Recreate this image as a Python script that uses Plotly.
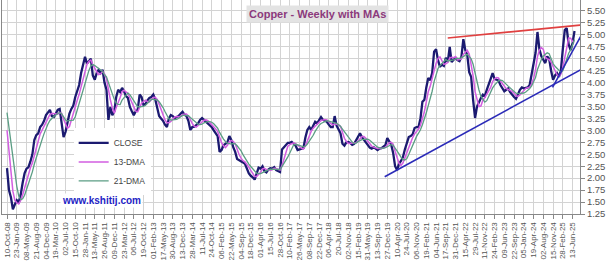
import pandas as pd
import plotly.graph_objects as go

# ---------------- data ----------------
title_text = "Copper - Weekly with MAs"
watermark = "www.kshitij.com"

start_date = "2008-10-10"          # first plotted weekly close
step_days = 21                     # values read every 3 weeks

# closes before the first plotted date (only used to seed the moving averages)
close_pre = [3.85, 3.80, 3.95, 3.85, 3.45, 3.40, 2.95]

close = [
    2.21, 1.75, 1.60, 1.35, 1.45, 1.54, 1.50, 1.65, 1.90, 2.10,
    2.20, 2.23, 2.35, 2.50, 2.80, 2.90, 2.94, 3.07, 3.12, 3.20,
    3.32, 3.38, 3.43, 3.30, 3.28, 3.35, 3.43, 3.45, 3.20, 2.86,
    2.97, 3.15, 3.35, 3.45, 3.52, 3.70, 3.85, 3.95, 4.20, 4.40,
    4.54, 4.40, 4.45, 4.50, 4.15, 4.06, 4.20, 4.27, 4.20, 4.27,
    4.00, 3.85, 3.22, 3.49, 3.32, 3.40, 3.70, 3.85, 3.80, 3.89,
    3.82, 3.72, 3.68, 3.49, 3.40, 3.32, 3.40, 3.43, 3.75, 3.70,
    3.53, 3.55, 3.63, 3.68, 3.70, 3.75, 3.65, 3.50, 3.30, 3.25,
    3.20, 3.12, 3.07, 3.25, 3.32, 3.30, 3.26, 3.28, 3.30, 3.35,
    3.39, 3.33, 3.30, 3.20, 3.01, 3.07, 3.08, 3.11, 3.15, 3.22,
    3.26, 3.22, 3.18, 3.15, 3.10, 3.07, 3.00, 2.95, 2.88, 2.55,
    2.59, 2.69, 2.72, 2.75, 2.88, 2.80, 2.65, 2.55, 2.40, 2.38,
    2.35, 2.33, 2.30, 2.20, 2.10, 2.05, 2.02, 1.97, 2.10, 2.22,
    2.20, 2.25, 2.15, 2.12, 2.18, 2.21, 2.20, 2.23, 2.17, 2.15,
    2.13, 2.60, 2.65, 2.68, 2.74, 2.74, 2.76, 2.72, 2.68, 2.59,
    2.60, 2.62, 2.63, 2.85, 3.01, 3.07, 3.01, 3.10, 3.18, 3.15,
    3.22, 3.28, 3.22, 3.20, 3.18, 3.12, 3.07, 3.07, 3.30, 3.10,
    3.00, 2.94, 2.72, 2.68, 2.75, 2.76, 2.74, 2.70, 2.72, 2.80,
    2.88, 2.94, 2.86, 2.80, 2.74, 2.69, 2.64, 2.62, 2.65, 2.62,
    2.59, 2.62, 2.63, 2.66, 2.69, 2.84, 2.78, 2.70, 2.53, 2.25,
    2.17, 2.30, 2.36, 2.44, 2.60, 2.74, 2.86, 2.88, 2.92, 3.05,
    3.07, 3.07, 3.25, 3.60, 3.64, 3.90, 4.10, 4.05, 4.20, 4.65,
    4.70, 4.47, 4.33, 4.38, 4.35, 4.52, 4.43, 4.75, 4.43, 4.48,
    4.52, 4.47, 4.45, 4.54, 4.91, 4.68, 4.58, 4.22, 4.12, 3.64,
    3.26, 3.50, 3.60, 3.68, 3.75, 3.72, 3.85, 3.95, 4.08, 4.20,
    4.08, 4.06, 4.05, 3.95, 3.88, 3.82, 3.85, 3.88, 3.80, 3.74,
    3.70, 3.66, 3.75, 3.85, 3.90, 3.88, 3.89, 3.90, 3.95, 4.15,
    4.35, 4.62, 5.06, 4.70, 4.55, 4.48, 4.41, 4.55, 4.50, 4.25,
    4.06, 4.15, 4.20, 4.12, 4.25, 4.70, 5.10, 5.14, 4.80, 4.68,
    4.83, 5.08,
]

ma_names = ["13-DMA", "21-DMA"]
ma_weeks = [13, 21]

tick_labels = [
    "10-Oct-08", "23-Jan-09", "08-May-09", "21-Aug-09", "04-Dec-09", "19-Mar-10",
    "02-Jul-10", "15-Oct-10", "28-Jan-11", "13-May-11", "26-Aug-11", "09-Dec-11",
    "23-Mar-12", "06-Jul-12", "19-Oct-12", "01-Feb-13", "17-May-13", "30-Aug-13",
    "13-Dec-13", "28-Mar-14", "11-Jul-14", "24-Oct-14", "06-Feb-15", "22-May-15",
    "04-Sep-15", "18-Dec-15", "01-Apr-16", "15-Jul-16", "28-Oct-16", "10-Feb-17",
    "26-May-17", "08-Sep-17", "22-Dec-17", "06-Apr-18", "20-Jul-18", "02-Nov-18",
    "15-Feb-19", "31-May-19", "13-Sep-19", "27-Dec-19", "10-Apr-20", "24-Jul-20",
    "06-Nov-20", "19-Feb-21", "04-Jun-21", "17-Sep-21", "31-Dec-21", "15-Apr-22",
    "29-Jul-22", "11-Nov-22", "24-Feb-23", "09-Jun-23", "22-Sep-23", "05-Jan-24",
    "19-Apr-24", "02-Aug-24", "15-Nov-24", "28-Feb-25", "13-Jun-25",
]

# trend lines (end points)
support_dates = ["2019-11-29", "2025-09-19"]
support_vals = [2.03, 4.28]
steep_dates = ["2024-11-09", "2025-10-10"]
steep_vals = [3.90, 5.08]
resist_dates = ["2021-10-08", "2025-09-29"]
resist_vals = [4.935, 5.21]

x_range = ["2008-08-17", "2025-09-01"]
y_range = [1.25, 5.73]

# ---------------- build ----------------
start = pd.Timestamp(start_date)
all_vals = close_pre + close
all_dates = pd.date_range(start - pd.Timedelta(days=step_days * len(close_pre)),
                          periods=len(all_vals), freq=f"{step_days}D")
ser = pd.Series(all_vals, index=all_dates)
dates = all_dates[len(close_pre):]

step_weeks = step_days / 7
mas = []
for w in ma_weeks:
    n = max(1, round(w / step_weeks))
    mas.append(ser.rolling(n, min_periods=1).mean().iloc[len(close_pre):])

tickvals = [pd.to_datetime(t, format="%d-%b-%y") for t in tick_labels]

FONT = "Arial, Liberation Sans, sans-serif"
fig = go.Figure()
fig.add_trace(go.Scatter(x=dates, y=close, name="CLOSE", mode="lines",
                         line=dict(color="#1b1a70", width=2.3)))
ma_colors = ["#d25ee0", "#5b9d84"]
ma_widths = [1.5, 1.3]
for nm, s, c, wd in zip(ma_names, mas, ma_colors, ma_widths):
    fig.add_trace(go.Scatter(x=dates, y=s.values, name=nm, mode="lines",
                             line=dict(color=c, width=wd)))

for dts, vals, col in [(support_dates, support_vals, "#2b2bb8"),
                       (steep_dates, steep_vals, "#2b2bb8"),
                       (resist_dates, resist_vals, "#e04040")]:
    fig.add_trace(go.Scatter(x=pd.to_datetime(dts), y=vals, mode="lines",
                             showlegend=False, hoverinfo="skip",
                             line=dict(color=col, width=1.6)))

fig.update_layout(
    width=607, height=263,
    margin=dict(l=2, r=26.5, t=0, b=49),
    paper_bgcolor="white", plot_bgcolor="white",
    font=dict(family=FONT, color="#555555"),
    showlegend=True,
    legend=dict(x=0.124, y=0.40, xanchor="left", yanchor="top",
                bgcolor="white", borderwidth=0,
                font=dict(size=8.5, color="#444444", family=FONT),
                tracegroupgap=0, itemwidth=30),
    xaxis=dict(type="date", range=x_range, tickmode="array",
               tickvals=tickvals, ticktext=tick_labels, tickangle=-90,
               tickfont=dict(size=8, color="#555555"),
               showgrid=True, gridcolor="#d3d3d3", gridwidth=1,
               showline=True, linecolor="#888888", linewidth=1,
               ticks="outside", ticklen=4, tickcolor="#888888", zeroline=False),
    yaxis=dict(side="right", range=y_range, tick0=1.25, dtick=0.25,
               tickformat=".2f", tickfont=dict(size=9.5, color="#555555"),
               showgrid=True, gridcolor="#d3d3d3", gridwidth=1,
               showline=True, mirror=True, linecolor="#888888", linewidth=1,
               ticks="outside", ticklen=4, tickcolor="#888888", zeroline=False),
    annotations=[
        dict(text=f"<b>{title_text}</b>", xref="paper", yref="paper",
             x=0.546, y=0.935, xanchor="center", yanchor="middle",
             showarrow=False, bgcolor="#e3e3e3", borderpad=2,
             font=dict(size=11, color="#8c3a7c", family=FONT)),
        dict(text=f"<b>{watermark}</b>", xref="paper", yref="paper",
             x=0.173, y=0.065, xanchor="center", yanchor="middle",
             showarrow=False, bgcolor="white", borderpad=1,
             font=dict(size=10, color="#2323c4", family=FONT)),
    ],
)

fig.write_html("out.html")
